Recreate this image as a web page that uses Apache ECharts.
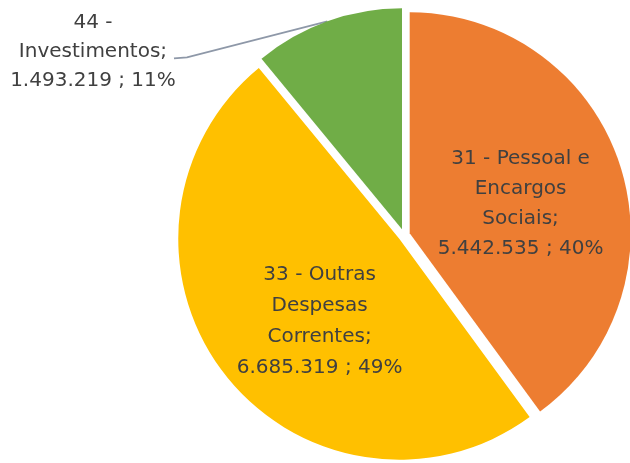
<!DOCTYPE html>
<html>
<head>
<meta charset="utf-8">
<script src="https://cdn.jsdelivr.net/npm/echarts@6/dist/echarts.min.js"></script>
<style>
html,body{margin:0;padding:0;background:#fff;}
#c{width:630px;height:463px;}
</style>
</head>
<body>
<div id="c"></div>
<script>
// Data
var categories = ['31 - Pessoal e Encargos Sociais', '33 - Outras Despesas Correntes', '44 - Investimentos'];
var labelNames = ['31 - Pessoal e\nEncargos\nSociais;', '33 - Outras\nDespesas\nCorrentes;', '44 -\nInvestimentos;'];
var values = [5442535, 6685319, 1493219];
var colors = ['#ED7D31', '#FFC000', '#70AD47'];

function fmt(n) {
  return String(n).replace(/\B(?=(\d{3})+(?!\d))/g, '.');
}

var chart = echarts.init(document.getElementById('c'), null, {renderer: 'canvas'});

var labelFont = {
  fontFamily: 'DejaVu Sans',
  fontSize: 20,
  lineHeight: 30,
  color: '#404040',
  align: 'center'
};

var data = categories.map(function (name, i) {
  var item = {
    name: name,
    value: values[i],
    selected: true,
    itemStyle: {color: colors[i]}
  };
  if (i === 0) {
    item.label = {position: 'inside'};
  } else if (i === 1) {
    item.label = {position: 'inside', lineHeight: 31};
  } else {
    item.label = {position: 'outside', lineHeight: 29};
    item.labelLine = {show: true, length: 20, length2: 20,
      lineStyle: {color: '#8E98A8', width: 1.8}};
  }
  return item;
});

chart.setOption({
  animation: false,
  backgroundColor: '#ffffff',
  series: [{
    type: 'pie',
    center: [404, 235],
    radius: [0, 221],
    startAngle: 90,
    clockwise: true,
    selectedMode: 'multiple',
    selectedOffset: 6,
    avoidLabelOverlap: false,
    emphasis: {disabled: true},
    itemStyle: {borderWidth: 0},
    label: Object.assign({
      show: true,
      formatter: function (p) {
        return labelNames[p.dataIndex] + '\n' + fmt(p.value) + ' ; ' + Math.round(p.percent) + '%';
      }
    }, labelFont),
    labelLayout: function (p) {
      if (p.dataIndex === 0) return {dx: 3, dy: 6};
      if (p.dataIndex === 1) return {dx: 10, dy: 13};
      var r = p.labelRect;
      var cy = r.y + r.height / 2;
      var start = p.labelLinePoints ? p.labelLinePoints[0] : [327, 21];
      return {
        dx: 95 - (r.x + r.width),
        dy: 57 - cy,
        align: 'center',
        labelLinePoints: [start, [189, 63], [176, 64]]
      };
    },
    data: data
  }]
});
</script>
</body>
</html>
